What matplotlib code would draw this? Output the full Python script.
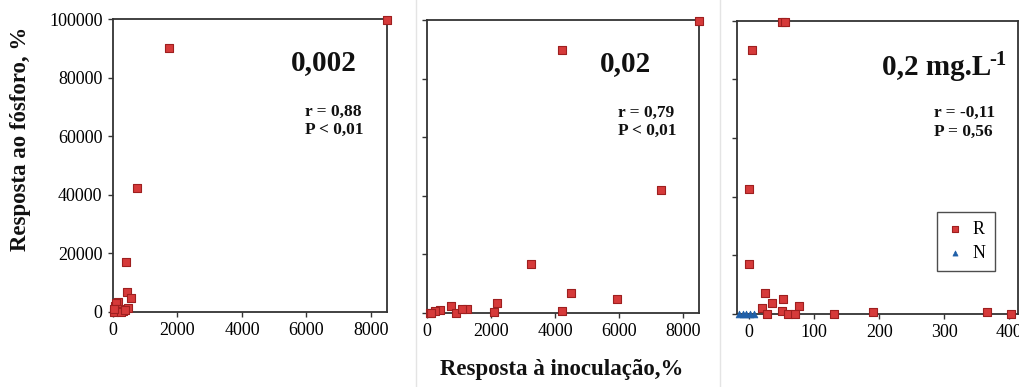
import matplotlib
matplotlib.use("Agg")
import matplotlib.pyplot as plt
from matplotlib.lines import Line2D

plt.rcParams["font.family"] = ["Liberation Serif", "DejaVu Serif"]

# ---------------------------------------------------------------------------
# data
# ---------------------------------------------------------------------------
x_002 = [8500, 1750, 740, 410, 430, 550, 150, 60, 100, 200, 300, 450, 80, 20, 250, 380, 30]
y_002 = [99700, 90000, 42200, 17000, 6700, 4900, 3500, 2000, 3000, 1000, 500, 1500, 500, 0, 0, 800, 1000]

x_02 = [8500, 4200, 7300, 3230, 4490, 5920, 2170, 2080, 4200, 740, 900, 1230, 1100, 400, 250, 85, 130]
y_02 = [99700, 89600, 42000, 16700, 6700, 4700, 3500, 500, 700, 2400, 0, 1200, 1400, 1000, 800, 0, 0]

x_2_R = [50, 56, 4, 0, 0, 25, 36, 52, 20, 77, 50, 28, 60, 70, 130, 190, 366, 402]
y_2_R = [99700, 99700, 90000, 42500, 17000, 7000, 3600, 5000, 2000, 2700, 1000, 0, 0, 0, 0, 700, 700, 0]
x_2_N = [-16, -10, -5, 2, 7]
y_2_N = [0, 0, 0, 0, 0]

titles = ["0,002", "0,02", "0,2 mg.L"]
stats = [("r = 0,88", "P < 0,01"), ("r = 0,79", "P < 0,01"), ("r = -0,11", "P = 0,56")]

RED = "#d63a3a"
RED_EDGE = "#9e1f1f"
BLUE = "#1f5fa8"
SPINE = "#333333"

fig = plt.figure(figsize=(10.19, 3.87), dpi=100, facecolor="white")

# axes positions in figure fractions
rects = [
    (0.1109, 0.1938, 0.2689, 0.7571),
    (0.4193, 0.1912, 0.2669, 0.7571),
    (0.7236, 0.1886, 0.2752, 0.7580),
]
axes = [fig.add_axes(r) for r in rects]

def style(ax):
    for s in ax.spines.values():
        s.set_color(SPINE)
        s.set_linewidth(1.3)
    ax.tick_params(direction="out", length=3.5, width=1, color=SPINE,
                   labelsize=13, pad=4)
    ax.set_ylim(0, 100000)
    ax.set_yticks([0, 20000, 40000, 60000, 80000, 100000])

def red_points(ax, xs, ys):
    ax.scatter(xs, ys, marker="s", s=38, color=RED, edgecolor=RED_EDGE,
               linewidth=0.8, clip_on=False, zorder=3, label="R")

# panel 1
ax = axes[0]
style(ax)
red_points(ax, x_002, y_002)
ax.set_xlim(0, 8500)
ax.set_xticks([0, 2000, 4000, 6000, 8000])

# panel 2
ax = axes[1]
style(ax)
red_points(ax, x_02, y_02)
ax.set_xlim(0, 8500)
ax.set_xticks([0, 2000, 4000, 6000, 8000])
ax.set_yticklabels([])

# panel 3
ax = axes[2]
style(ax)
red_points(ax, x_2_R, y_2_R)
ax.scatter(x_2_N, y_2_N, marker="^", s=24, color=BLUE, edgecolor=BLUE,
           linewidth=0.5, clip_on=False, zorder=4, label="N")
ax.set_xlim(-18, 413)
ax.set_xticks([0, 100, 200, 300, 400])
ax.set_yticklabels([])
leg = ax.legend(loc="upper left", bbox_to_anchor=(0.711, 0.348), borderaxespad=0,
                frameon=True, fancybox=False, fontsize=13, handletextpad=0.5,
                borderpad=0.5, labelspacing=0.4, handlelength=1.0,
                markerscale=0.75)
leg.get_frame().set_edgecolor("#222222")
leg.get_frame().set_linewidth(1.0)

# titles and statistics
title_pos = [(0.77, 0.85), (0.73, 0.85), (0.71, 0.84)]
stat_pos = [(0.70, 0.653), (0.70, 0.653), (0.70, 0.653)]
for i, (ax, t, (xt, yt), (r, p), (xs, ys)) in enumerate(
        zip(axes, titles, title_pos, stats, stat_pos)):
    tt = ax.text(xt, yt, t, transform=ax.transAxes, ha="center", va="center",
                 fontsize=21, fontweight="bold", color="#111111")
    if i == 2:
        ax.annotate("-1", xy=(1, 1), xycoords=tt, xytext=(-1, 3),
                    textcoords="offset points", ha="left", va="top",
                    fontsize=15, fontweight="bold", color="#111111")
    ax.text(xs, ys, r + "\n" + p, transform=ax.transAxes, ha="left", va="center",
            fontsize=12.5, fontweight="bold", color="#111111", linespacing=1.2)

fig.text(0.020, 0.64, "Resposta ao fósforo, %", rotation=90, ha="center",
         va="center", fontsize=16.5, fontweight="bold", color="#111111")
fig.text(0.551, 0.045, "Resposta à inoculação,%", ha="center", va="center",
         fontsize=16.5, fontweight="bold", color="#111111")

# faint scan separators between panels
for xf in (0.408, 0.707):
    fig.add_artist(Line2D([xf, xf], [0.0, 1.0], transform=fig.transFigure,
                          color="#e4e4e4", linewidth=1.0))

fig.savefig("out.png", dpi=100, facecolor="white")
